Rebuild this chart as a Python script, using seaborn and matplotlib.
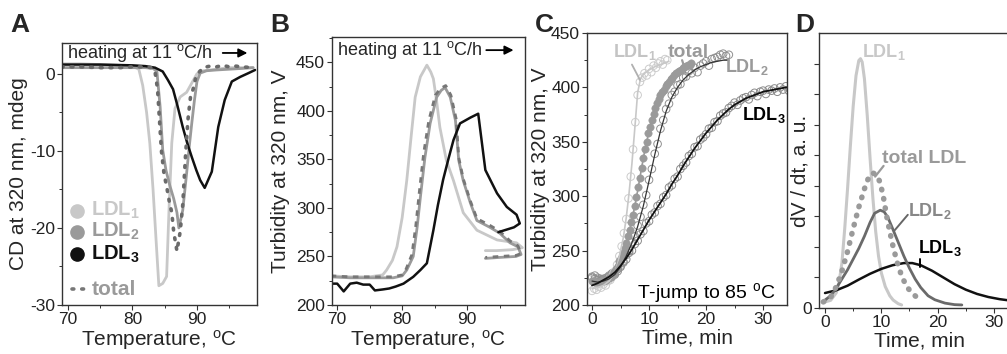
import numpy as np
import pandas as pd
import seaborn as sns
import matplotlib.pyplot as plt
from matplotlib.ticker import MultipleLocator

sns.set_style("ticks")
plt.rcParams['font.family'] = ['Liberation Sans', 'DejaVu Sans']
plt.rcParams['mathtext.fontset'] = 'custom'
plt.rcParams['mathtext.rm'] = 'Liberation Sans'
plt.rcParams['mathtext.bf'] = 'Liberation Sans:bold'
plt.rcParams['mathtext.it'] = 'Liberation Sans:italic'
plt.rcParams['axes.unicode_minus'] = False

# ---- panel A: CD at 320 nm during heating ----
a_t1 = [69, 72, 75, 78, 80, 81, 81.6, 82.2, 82.7, 83.2, 83.7, 84.1, 84.7, 85.3, 85.7, 86.1,
        86.6, 87.4, 88.4, 89.2, 90, 91, 93, 95, 97, 98.7]
a_cd1 = [1.3, 1.3, 1.2, 1.1, 1.0, 0.6, -1.5, -5, -9, -15, -22, -27.5, -27.2, -26.3, -17, -9,
         -4.5, -3.0, -2.4, -1.2, 0, 0.4, 0.6, 0.8, 0.8, 0.8]
a_t2 = [69, 75, 80, 82, 83.2, 83.8, 84.3, 84.7, 85.2, 85.8, 86.4, 86.9, 87.2, 87.8, 88.4, 88.8,
        89.2, 89.6, 90.0, 90.5, 91.5, 93, 95, 97, 98.7]
a_cd2 = [0.8, 0.8, 0.8, 0.8, 0.7, 0.3, -4.3, -9.9, -12.5, -14.5, -16.2, -18, -20, -17.7, -12.9, -9.5,
         -6.4, -3.5, -1, 0.1, 0.4, 0.5, 0.6, 0.7, 0.8]
a_t3 = [69, 75, 80, 82, 83.5, 84.7, 85.5, 86.3, 87.0, 87.8, 88.5, 89.2, 89.9, 90.5, 91.2, 92.3,
        92.8, 93.3, 94.3, 95.4, 96.7, 98, 99]
a_cd3 = [1.2, 1.2, 1.1, 1.0, 0.8, 0.3, -0.8, -2, -4.2, -6.9, -9, -10.8, -12.5, -13.8, -14.8, -12.7,
         -9.8, -6.9, -3.4, -1, -0.4, 0.1, 0.5]
a_tt = [69, 72, 75, 78, 80, 82, 83, 83.5, 83.9, 84.2, 84.5, 84.9, 85.3, 85.7, 86.1, 86.4, 86.7,
        86.9, 87.1, 87.4, 87.8, 88.2, 88.6, 89.0, 89.4, 89.8, 90.3, 91, 92, 93, 94, 95, 96, 97, 98.7]
a_cdt = [0.9, 0.9, 0.8, 0.8, 0.9, 0.9, 0.8, 0.3, -2, -6, -10, -13, -14.6, -16.5, -18, -20.5, -22,
         -23, -22, -20.5, -17, -11, -6, -3, -2, -0.5, 0.2, 0.8, 1.0, 0.9, 1.1, 0.9, 1.0, 0.9, 0.8]

# ---- panel B: turbidity during heating ----
b_t1 = [69, 72, 75, 77, 77.6, 78.5, 79.2, 80, 80.7, 81.4, 82, 82.8, 83.8, 84.4, 84.8, 85.3, 85.8,
        86.8, 87.9, 89.4, 91.5, 94.6, 97.6, 98.5, 97, 94.5, 92.8]
b_v1 = [230, 229, 229, 231, 236, 246, 260, 290, 328, 375, 414, 435, 447, 440, 433, 410, 383,
        349, 328, 295, 277, 267, 264, 259, 257, 256, 256]
b_t2 = [69, 72, 75, 78.6, 80, 80.7, 81.7, 82.3, 82.8, 83.5, 84.3, 85.3, 86, 86.6, 87.4, 88.2, 88.7,
        89.4, 90.5, 91.5, 93.5, 95, 96.6, 97.8, 98.3, 97.5, 95, 92.8]
b_v2 = [229, 228, 228, 228, 230, 236, 250, 280, 311, 352, 387, 414, 421, 424, 414, 390, 349,
        328, 305, 287, 280, 274, 264, 260, 252, 250, 249, 248]
b_tt = [69, 72, 75, 78.6, 80, 80.6, 81.5, 82.1, 82.6, 83.3, 84.1, 85.1, 85.9, 86.7, 87.5, 88.3, 88.7,
        89.4, 90.5, 91.5, 93.5, 95, 96.6, 97.8, 98.3, 97.5, 95, 92.8]
b_vt = [230, 229, 229, 229, 231, 237, 252, 282, 314, 356, 390, 416, 423, 426, 416, 392, 352,
        330, 307, 289, 282, 276, 266, 261, 253, 251, 250, 249]
b_t3 = [69, 70, 71, 72, 73, 74, 75, 75.8, 77, 78, 79, 80.2, 81.7, 82.8, 83.8, 84.8, 85.5, 86.3,
        87.1, 87.9, 88.9, 90.5, 91.7, 92.8, 94.6, 96.1, 97.6, 98.1, 97.2, 94.8]
b_v3 = [222, 222, 214, 222, 223, 221, 221, 215, 216, 217, 219, 222, 229, 236, 243, 277, 303, 329,
        350, 370, 387, 393, 397, 339, 315, 301, 293, 284, 280, 275]

# ---- panel C: T-jump kinetics (measured points, sampled at fixed steps) ----
c_pts1 = [213, 215, 214, 217, 216, 219, 218, 222, 223, 227, 231, 237, 245, 254, 266, 279, 298,
          318, 343, 368, 393, 405, 409, 413, 411, 417, 414, 420, 418, 422, 424, 421, 426, 425]
c_step1 = 0.4
c_ptst = [222, 222, 221, 221, 221, 222, 222, 222, 223, 224, 225, 226, 228, 230, 233, 236, 240,
          243, 248, 252, 257, 263, 269, 276, 283, 291, 299, 308, 317, 326, 335, 343, 350, 358,
          364, 370, 376, 381, 386, 389, 393, 396, 398, 401, 403, 405, 408, 409, 411, 413, 414,
          415, 416, 418, 419, 420, 421, 421, 422]
c_stept = 0.3
c_pts2 = [226, 227, 225, 224, 223, 225, 227, 226, 229, 231, 236, 239, 246, 250, 258, 263, 273,
          281, 292, 301, 315, 325, 339, 348, 362, 370, 380, 385, 393, 396, 402, 403, 409, 410,
          415, 413, 418, 414, 420, 422, 424, 420, 426, 427, 428, 430, 431, 429, 430]
c_step2 = 0.5
c_pts3 = [225, 224, 223, 222, 224, 223, 226, 229, 228, 233, 235, 240, 242, 248, 250, 256, 259,
          265, 268, 275, 277, 283, 285, 291, 293, 299, 301, 308, 310, 316, 318, 325, 328, 331,
          337, 339, 345, 346, 352, 354, 357, 362, 363, 368, 369, 374, 376, 377, 381, 383, 386,
          384, 388, 390, 391, 389, 393, 395, 392, 396, 397, 394, 398, 397, 399, 396, 400, 398,
          401, 397, 400]
c_step3 = 0.5
# fitted / guide curves
c_ft1 = [0, 1, 2, 3, 4, 4.5, 5, 5.5, 6, 6.5, 7, 7.5, 8, 8.5, 9, 10, 11, 12, 13, 13.5]
c_fv1 = [215, 216, 218, 222, 230, 238, 250, 262, 280, 303, 330, 362, 395, 408, 412, 416, 419,
         421, 423, 424]
c_ft2 = list(range(0, 25))
c_fv2 = [222, 221, 222, 224, 228, 235, 245, 257, 272, 291, 314, 338, 360, 378, 391, 400, 407,
         412, 416, 419, 421, 423, 424, 425, 425]
c_ft3 = list(range(0, 36))
c_fv3 = [218, 220, 223, 226, 230, 236, 243, 251, 260, 269, 278, 286, 294, 302, 311, 319, 328,
         336, 344, 351, 358, 364, 370, 375, 380, 384, 387, 390, 392, 394, 396, 397, 398, 399,
         400, 401]

# ---- panel D: rate dV/dt ----
d_t1 = [0, 1, 2, 2.5, 3, 3.5, 4, 4.5, 5, 5.5, 6, 6.3, 6.6, 7, 7.5, 8, 8.5, 9, 9.5, 10, 10.7,
        11.5, 12.1, 13, 13.6]
d_r1 = [0.2, 0.25, 0.5, 0.85, 1.47, 2.6, 3.9, 5.3, 6.6, 7.6, 8.1, 8.16, 8.05, 7.5, 6.3, 4.9,
        3.6, 2.5, 1.7, 1.15, 0.7, 0.4, 0.26, 0.14, 0.1]
d_tt = [-0.3, 1, 2, 3, 4, 5, 6, 7, 7.8, 8.5, 9.2, 9.8, 10.4, 10.9, 11.5, 12.1, 12.8, 13.6, 14.5,
        15.4, 16.3, 17.2]
d_rt = [0.2, 0.35, 0.7, 1.2, 1.85, 2.6, 3.3, 3.9, 4.3, 4.42, 4.35, 4.1, 3.6, 3.05, 2.5, 2.0, 1.5,
        1.05, 0.7, 0.5, 0.35, 0.26]
d_t2 = [0, 1, 2, 3, 4, 5, 6, 7, 8, 8.8, 9.8, 10.5, 11.2, 12, 13, 14, 15, 16, 17, 18.3, 19.5,
        21.3, 23, 24.3]
d_r2 = [0.26, 0.4, 0.65, 0.95, 1.25, 1.6, 1.95, 2.35, 2.8, 3.1, 3.2, 3.15, 2.95, 2.6, 2.15, 1.7,
        1.3, 0.95, 0.67, 0.4, 0.27, 0.16, 0.11, 0.1]
d_t3 = [0, 2, 4, 6, 8, 10, 12, 14, 15.5, 17, 19, 21, 23, 25, 27, 29, 31, 33]
d_r3 = [0.49, 0.58, 0.73, 0.93, 1.12, 1.28, 1.4, 1.47, 1.47, 1.4, 1.22, 1.0, 0.78, 0.6, 0.46,
        0.36, 0.29, 0.24]

c1, c2, c3, ct = '#c8c8c8', '#9a9a9a', '#111111', '#777777'
deg = r'$^{\mathrm{o}}$C'
LAB = 15

fig = plt.figure(figsize=(10.07, 3.54), dpi=100)
W, H = 1007, 354


def box(l, t, r, b):
    return [l / W, 1 - b / H, (r - l) / W, (b - t) / H]


def style(ax):
    for s in ax.spines.values():
        s.set_visible(True)
        s.set_linewidth(1.0)
        s.set_color('#333333')
    ax.tick_params(which='major', direction='out', length=3.5, width=0.8, colors='#333333',
                   labelsize=12.5, labelcolor='#222222', pad=1.5)
    ax.tick_params(which='minor', direction='out', length=2, width=0.7, colors='#333333')


axA = fig.add_axes(box(62, 43, 257, 305))
axB = fig.add_axes(box(332, 37, 525, 305))
axC = fig.add_axes(box(587, 33, 787, 305))
axD = fig.add_axes(box(819, 33, 1019, 308))

# A
sns.lineplot(x=a_t1, y=a_cd1, ax=axA, color=c1, lw=2, sort=False, estimator=None)
sns.lineplot(x=a_t2, y=a_cd2, ax=axA, color=c2, lw=2, sort=False, estimator=None)
sns.lineplot(x=a_t3, y=a_cd3, ax=axA, color=c3, lw=1.8, sort=False, estimator=None)
sns.lineplot(x=a_tt, y=a_cdt, ax=axA, color='#6a6a6a', lw=2.6, sort=False, estimator=None,
             linestyle=(0, (0.5, 2.2)), dash_capstyle='round')
axA.set_xlim(69.1, 99.3)
axA.set_ylim(-30, 4.0)
axA.xaxis.set_major_locator(MultipleLocator(10))
axA.xaxis.set_minor_locator(MultipleLocator(5))
axA.yaxis.set_major_locator(MultipleLocator(10))
axA.yaxis.set_minor_locator(MultipleLocator(5))
axA.set_xlabel('Temperature, ' + deg, fontsize=LAB, labelpad=1)
axA.set_ylabel('CD at 320 nm, mdeg', fontsize=LAB)
axA.yaxis.set_label_coords(-0.175, 0.5)
style(axA)
axA.text(0.026, 0.943, 'heating at 11 ' + deg + '/h', transform=axA.transAxes, fontsize=13,
         va='baseline', ha='left')
axA.annotate('', xy=(0.965, 0.962), xytext=(0.81, 0.962), xycoords='axes fraction',
             arrowprops=dict(arrowstyle='-|>', color='black', lw=1.3, mutation_scale=13))
leg = [(0.36, c1, r'LDL$_\mathbf{1}$'), (0.28, c2, r'LDL$_\mathbf{2}$'),
       (0.195, c3, r'LDL$_\mathbf{3}$')]
for yy, cc, lab in leg:
    axA.plot([0.077], [yy], 'o', ms=9.5, color=cc, transform=axA.transAxes)
    axA.text(0.15, yy, lab, color=cc, fontsize=14.5, fontweight='bold', va='center',
             transform=axA.transAxes)
axA.plot([0.05, 0.135], [0.06, 0.06], color=ct, lw=2.6, linestyle=(0, (0.5, 2.2)),
         dash_capstyle='round', transform=axA.transAxes)
axA.text(0.15, 0.06, 'total', color=c2, fontsize=15, fontweight='bold', va='center',
         transform=axA.transAxes)

# B
sns.lineplot(x=b_t1, y=b_v1, ax=axB, color=c1, lw=2, sort=False, estimator=None)
sns.lineplot(x=b_t2, y=b_v2, ax=axB, color=c2, lw=2, sort=False, estimator=None)
sns.lineplot(x=b_tt, y=b_vt, ax=axB, color=ct, lw=2, sort=False, estimator=None,
             linestyle=(0, (2, 2)))
sns.lineplot(x=b_t3, y=b_v3, ax=axB, color=c3, lw=1.8, sort=False, estimator=None)
axB.set_xlim(69.2, 98.9)
axB.set_ylim(200, 476)
axB.xaxis.set_major_locator(MultipleLocator(10))
axB.xaxis.set_minor_locator(MultipleLocator(5))
axB.yaxis.set_major_locator(MultipleLocator(50))
axB.yaxis.set_minor_locator(MultipleLocator(25))
axB.set_xlabel('Temperature, ' + deg, fontsize=LAB, labelpad=1)
axB.set_ylabel('Turbidity at 320 nm, V', fontsize=LAB)
axB.yaxis.set_label_coords(-0.22, 0.5)
style(axB)
axB.text(0.026, 0.933, 'heating at 11 ' + deg + '/h', transform=axB.transAxes, fontsize=13,
         va='baseline', ha='left')
axB.annotate('', xy=(0.955, 0.951), xytext=(0.785, 0.951), xycoords='axes fraction',
             arrowprops=dict(arrowstyle='-|>', color='black', lw=1.3, mutation_scale=13))

# C
t1 = np.arange(len(c_pts1)) * c_step1
tt = np.arange(len(c_ptst)) * c_stept
t2 = np.arange(len(c_pts2)) * c_step2
t3 = np.arange(len(c_pts3)) * c_step3
sns.scatterplot(x=t3, y=c_pts3, ax=axC, marker='o', s=30, facecolor='none',
                edgecolor='#8a8a8a', linewidth=0.7)
sns.scatterplot(x=t2, y=c_pts2, ax=axC, marker='o', s=30, facecolor='none',
                edgecolor='#909090', linewidth=0.7)
sns.scatterplot(x=t1, y=c_pts1, ax=axC, marker='o', s=30, facecolor='none',
                edgecolor='#cccccc', linewidth=0.7)
sns.lineplot(x=c_ft1, y=c_fv1, ax=axC, color='#c8c8c8', lw=1.2, estimator=None)
sns.lineplot(x=tt, y=c_ptst, ax=axC, color=c2, lw=1.2, estimator=None)
sns.scatterplot(x=tt, y=c_ptst, ax=axC, marker='o', s=28, color=c2, edgecolor=c2)
sns.lineplot(x=c_ft2, y=c_fv2, ax=axC, color='#333333', lw=0.9, estimator=None)
sns.lineplot(x=c_ft3, y=c_fv3, ax=axC, color='#111111', lw=1.3, estimator=None)
axC.set_xlim(-0.88, 34.2)
axC.set_ylim(200, 450)
axC.xaxis.set_major_locator(MultipleLocator(10))
axC.xaxis.set_minor_locator(MultipleLocator(5))
axC.yaxis.set_major_locator(MultipleLocator(50))
axC.yaxis.set_minor_locator(MultipleLocator(25))
axC.set_xlabel('Time, min', fontsize=LAB, labelpad=1)
axC.set_ylabel('Turbidity at 320 nm, V', fontsize=LAB)
axC.yaxis.set_label_coords(-0.185, 0.5)
style(axC)
axC.text(3.7, 428, r'LDL$_\mathbf{1}$', color='#c4c4c4', fontsize=13, fontweight='bold',
         va='baseline')
axC.plot([7.0, 8.4], [421, 407], color='#b0b0b0', lw=1.3)
axC.text(13.3, 428, 'total', color=c2, fontsize=14, fontweight='bold', va='baseline')
axC.plot([15.8, 16.3], [425, 417], color=c2, lw=1.6)
axC.text(23.3, 414, r'LDL$_\mathbf{2}$', color=c2, fontsize=13, fontweight='bold',
         va='baseline')
axC.text(26.3, 370, r'LDL$_\mathbf{3}$', color='black', fontsize=13, fontweight='bold',
         va='baseline')
axC.text(7.9, 206.4, 'T-jump to 85 ' + deg, color='black', fontsize=14, va='baseline')

# D
sns.lineplot(x=d_t1, y=d_r1, ax=axD, color=c1, lw=2.2, estimator=None)
sns.lineplot(x=d_t3, y=d_r3, ax=axD, color=c3, lw=1.8, estimator=None)
sns.lineplot(x=d_t2, y=d_r2, ax=axD, color='#6a6a6a', lw=2.0, estimator=None)
sns.lineplot(x=d_tt, y=d_rt, ax=axD, color=c2, lw=4.0, estimator=None,
             linestyle=(0, (0.1, 1.6)), dash_capstyle='round')
axD.set_xlim(-1.07, 34.45)
axD.set_ylim(0, 9)
axD.xaxis.set_major_locator(MultipleLocator(10))
axD.xaxis.set_minor_locator(MultipleLocator(5))
axD.set_yticks(range(0, 9))
axD.set_yticklabels(['0'] + [''] * 8)
axD.set_xlabel('Time, min', fontsize=LAB, labelpad=1)
axD.set_ylabel('dV / dt, a. u.', fontsize=LAB)
axD.yaxis.set_label_coords(-0.045, 0.5)
style(axD)
axD.text(6.6, 8.2, r'LDL$_\mathbf{1}$', color=c1, fontsize=13, fontweight='bold', va='baseline')
axD.text(10.1, 4.75, 'total LDL', color=c2, fontsize=14, fontweight='bold', va='baseline')
axD.plot([8.9, 10.4], [4.3, 4.65], color=c2, lw=1.6)
axD.text(14.7, 3.0, r'LDL$_\mathbf{2}$', color='#888888', fontsize=13, fontweight='bold',
         va='baseline')
axD.plot([12.4, 14.7], [2.55, 3.05], color='#666666', lw=1.4)
axD.text(16.5, 1.8, r'LDL$_\mathbf{3}$', color='black', fontsize=13, fontweight='bold',
         va='baseline')
axD.plot([16.9, 16.9], [1.35, 1.62], color='black', lw=1.4)

for x, s in [(10, 'A'), (270, 'B'), (535, 'C'), (795, 'D')]:
    fig.text(x / W, 1 - 32 / H, s, fontsize=19, fontweight='bold', va='baseline')

fig.savefig('out.png', dpi=100)
